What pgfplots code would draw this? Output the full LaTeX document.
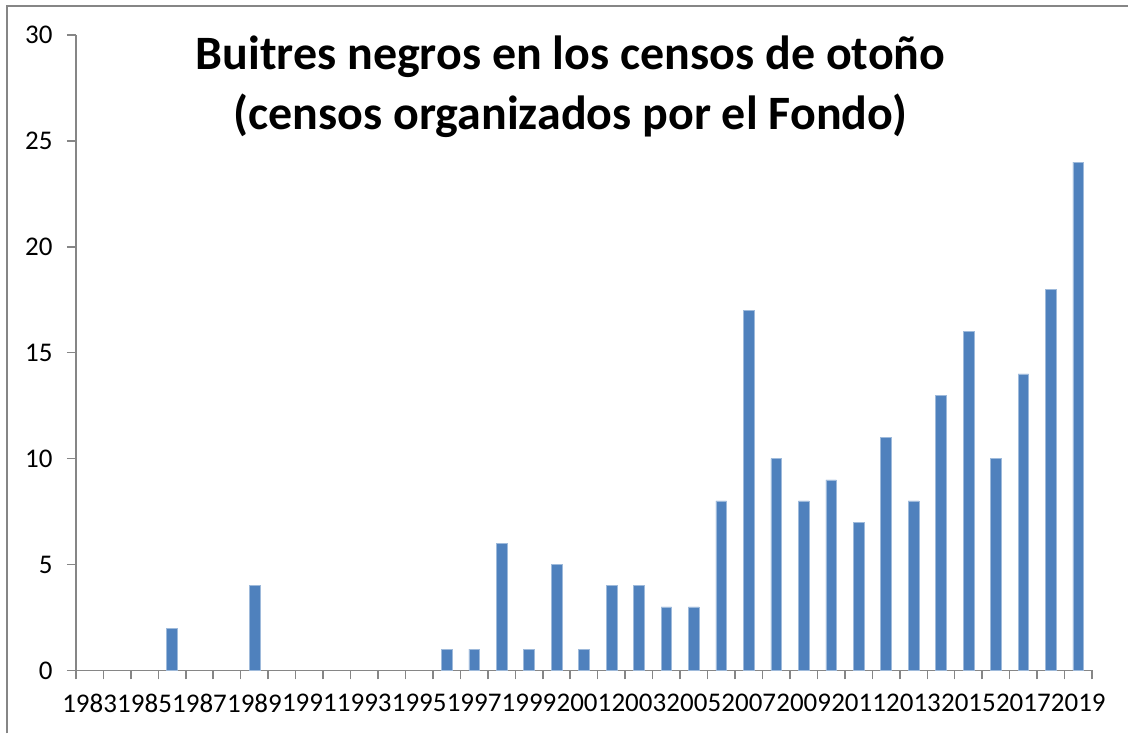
\documentclass[border=0pt]{standalone}
\usepackage{fontspec}
\setmainfont{Carlito}
\usepackage{pgfplots}
\pgfplotsset{compat=1.18}
\definecolor{barblue}{HTML}{4F81BD}
\definecolor{axisgray}{HTML}{868686}
\begin{document}
\begin{tikzpicture}
\path (0,0) rectangle (1129pt,734pt);
\draw[axisgray, line width=2pt] (7pt,0pt) -- (7pt,728pt) -- (1129pt,728pt);
\begin{axis}[
    at={(76pt,63pt)}, anchor=south west,
    scale only axis, width=1017pt, height=636pt,
    xmin=1982.5, xmax=2019.5, ymin=0, ymax=30,
    axis lines*=left,
    axis line style={axisgray, line width=1.5pt, -},
    tick align=outside,
    major tick length=9pt,
    xtick style={axisgray, line width=1.5pt},
    ytick style={axisgray, line width=1.5pt},
    xtick={1982.5,1983.5,1984.5,1985.5,1986.5,1987.5,1988.5,1989.5,1990.5,
        1991.5,1992.5,1993.5,1994.5,1995.5,1996.5,1997.5,1998.5,1999.5,2000.5,
        2001.5,2002.5,2003.5,2004.5,2005.5,2006.5,2007.5,2008.5,2009.5,2010.5,
        2011.5,2012.5,2013.5,2014.5,2015.5,2016.5,2017.5,2018.5,2019.5},
    xticklabels={},
    extra x ticks={1983,1985,...,2019},
    extra x tick style={major tick length=0pt},
    ytick={0,5,...,30},
    tick label style={font=\fontsize{27}{30}\selectfont},
    /pgf/number format/assume math mode=true,
    /pgf/number format/1000 sep={},
    xticklabel style={yshift=-20pt},
    yticklabel style={anchor=east, xshift=-11pt},
    ybar, bar width=10.7pt,
]
\addplot[fill=barblue, draw=barblue!55!white, line width=0.5pt] coordinates {
    (1986,2) (1989,4) (1996,1) (1997,1) (1998,6) (1999,1) (2000,5)
    (2001,1) (2002,4) (2003,4) (2004,3) (2005,3) (2006,8) (2007,17)
    (2008,10) (2009,8) (2010,9) (2011,7) (2012,11) (2013,8) (2014,13)
    (2015,16) (2016,10) (2017,14) (2018,18) (2019,24)
};
\end{axis}
\node[anchor=base, font=\fontsize{48}{54}\selectfont\bfseries] at (571pt,664pt) {Buitres negros en los censos de otoño};
\node[anchor=base, font=\fontsize{48}{54}\selectfont\bfseries] at (571pt,604pt) {(censos organizados por el Fondo)};
\end{tikzpicture}
\end{document}
